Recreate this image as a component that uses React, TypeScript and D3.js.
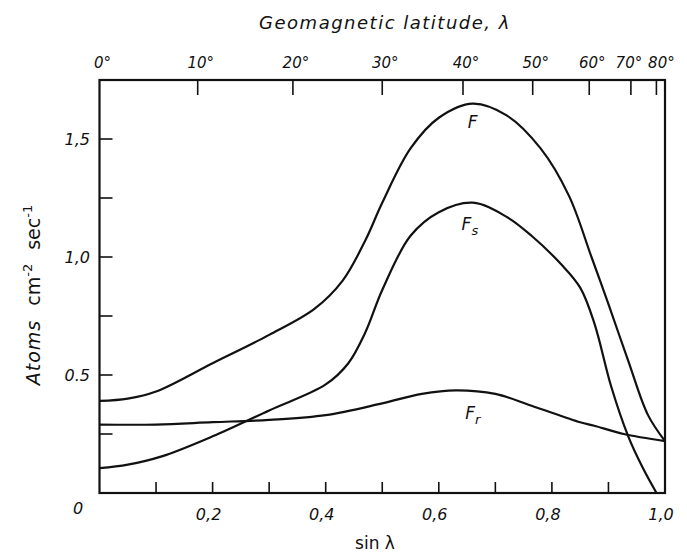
import React from "react";
import * as d3 from "d3";

// sin(lambda) positions and flux values (atoms cm^-2 sec^-1)
const fX = [0, 0.05, 0.1, 0.2, 0.3, 0.38, 0.43, 0.47, 0.5, 0.55, 0.6, 0.66, 0.72, 0.78, 0.83, 0.87, 0.9, 0.935, 0.97, 1.0];
const fY = [0.39, 0.4, 0.43, 0.55, 0.67, 0.78, 0.9, 1.07, 1.23, 1.46, 1.59, 1.65, 1.6, 1.46, 1.26, 1.0, 0.8, 0.56, 0.33, 0.22];

const fsX = [0, 0.05, 0.11, 0.2, 0.3, 0.4, 0.44, 0.47, 0.5, 0.55, 0.6, 0.66, 0.72, 0.764, 0.816, 0.85, 0.875, 0.905, 0.935, 0.96, 0.985];
const fsY = [0.105, 0.12, 0.155, 0.24, 0.35, 0.46, 0.55, 0.68, 0.86, 1.09, 1.19, 1.23, 1.17, 1.09, 0.97, 0.87, 0.72, 0.45, 0.24, 0.11, 0];

const frX = [0, 0.1, 0.2, 0.3, 0.4, 0.5, 0.57, 0.63, 0.7, 0.764, 0.85, 0.875, 0.927, 1.0];
const frY = [0.29, 0.29, 0.3, 0.31, 0.33, 0.38, 0.42, 0.435, 0.42, 0.37, 0.3, 0.285, 0.25, 0.22];

const latitudes = [0, 10, 20, 30, 40, 50, 60, 70, 80];
const latLabels = ["0°", "10°", "20°", "30°", "40°", "50°", "60°", "70°", "80°"];

const xTickVals = [0.1, 0.2, 0.3, 0.4, 0.5, 0.6, 0.7, 0.8, 0.9];
const xLabelVals = [0.2, 0.4, 0.6, 0.8, 1.0];
const xLabels = ["0,2", "0,4", "0,6", "0,8", "1,0"];

const yTickVals = [0.25, 0.5, 0.75, 1.0, 1.25, 1.5];
const yLabelVals = [0.5, 1.0, 1.5];
const yLabels = ["0.5", "1,0", "1,5"];

const W = 687;
const H = 556;
const M = { left: 99.5, right: 665, top: 80, bottom: 493 };

const FONT = "'DejaVu Sans', 'Liberation Sans', sans-serif";

export default function App() {
  const x = d3.scaleLinear().domain([0, 1]).range([M.left, M.right]);
  const y = d3.scaleLinear().domain([0, 1.75]).range([M.bottom, M.top]);

  const line = d3
    .line<[number, number]>()
    .x((d) => x(d[0]))
    .y((d) => y(d[1]))
    .curve(d3.curveCatmullRom.alpha(0.5));

  const series = [
    { xs: fX, ys: fY },
    { xs: fsX, ys: fsY },
    { xs: frX, ys: frY },
  ];

  const latShift = (lat: number) => (lat === 70 ? -2 : lat === 80 ? 5 : 3);

  return (
    <svg
      width={W}
      height={H}
      style={{ position: "absolute", left: 0, top: 0, background: "#fff" }}
    >
      <rect x={0} y={0} width={W} height={H} fill="#fff" />
      {/* title */}
      <text
        x={385}
        y={29}
        textAnchor="middle"
        fontFamily={FONT}
        fontStyle="italic"
        fontSize={18}
        letterSpacing={1.5}
        fill="#111"
      >
        Geomagnetic latitude, λ
      </text>

      {/* frame */}
      <rect
        x={M.left}
        y={M.top}
        width={M.right - M.left}
        height={M.bottom - M.top}
        fill="none"
        stroke="#111"
        strokeWidth={2.2}
      />

      {/* top ticks (latitude) */}
      {latitudes.map((lat, i) => {
        const px = x(Math.sin((lat * Math.PI) / 180));
        return (
          <g key={"lat" + lat}>
            {i > 0 && (
              <line x1={px} x2={px} y1={M.top} y2={M.top + 15} stroke="#111" strokeWidth={1.6} />
            )}
            <text
              x={px + latShift(lat)}
              y={68}
              textAnchor="middle"
              fontFamily={FONT}
              fontStyle="italic"
              fontSize={15}
              fill="#111"
            >
              {latLabels[i]}
            </text>
          </g>
        );
      })}

      {/* bottom ticks */}
      {xTickVals.map((v) => (
        <line key={"xt" + v} x1={x(v)} x2={x(v)} y1={M.bottom} y2={M.bottom - 11} stroke="#111" strokeWidth={1.6} />
      ))}
      {xLabelVals.map((v, i) => (
        <text
          key={"xl" + v}
          x={x(v) - 4}
          y={520}
          textAnchor="middle"
          fontFamily={FONT}
          fontStyle="italic"
          fontSize={16}
          fill="#111"
        >
          {xLabels[i]}
        </text>
      ))}
      <text x={78} y={514} textAnchor="middle" fontFamily={FONT} fontStyle="italic" fontSize={16} fill="#111">
        0
      </text>
      <text x={375} y={549} textAnchor="middle" fontFamily={FONT} fontSize={17} fill="#111">
        sin  λ
      </text>

      {/* left ticks */}
      {yTickVals.map((v) => (
        <line key={"yt" + v} x1={M.left} x2={M.left + 13} y1={y(v)} y2={y(v)} stroke="#111" strokeWidth={1.6} />
      ))}
      {yLabelVals.map((v, i) => (
        <text
          key={"yl" + v}
          x={90}
          y={y(v) + 6}
          textAnchor="end"
          fontFamily={FONT}
          fontStyle="italic"
          fontSize={16}
          fill="#111"
        >
          {yLabels[i]}
        </text>
      ))}

      {/* y axis title */}
      <text
        transform="translate(40,295) rotate(-90)"
        textAnchor="middle"
        fontFamily={FONT}
        fontSize={19}
        fill="#111"
      >
        <tspan fontStyle="italic" letterSpacing={1}>Atoms</tspan>
        <tspan dx={14}>cm</tspan>
        <tspan dy={-8} fontSize={13}>-2</tspan>
        <tspan dy={8} dx={14}>sec</tspan>
        <tspan dy={-8} fontSize={13}>-1</tspan>
      </text>

      {/* curves */}
      {series.map((s, i) => (
        <path
          key={"s" + i}
          d={line(s.xs.map((v, j) => [v, s.ys[j]] as [number, number])) || ""}
          fill="none"
          stroke="#111"
          strokeWidth={2.2}
        />
      ))}

      {/* curve labels */}
      <text x={x(0.66)} y={y(1.57) + 6} textAnchor="middle" fontFamily={FONT} fontStyle="italic" fontSize={17} fill="#111">
        F
      </text>
      <text x={x(0.655)} y={y(1.14) + 6} textAnchor="middle" fontFamily={FONT} fontStyle="italic" fontSize={17} fill="#111">
        F<tspan dy={5} fontSize={13}>s</tspan>
      </text>
      <text x={x(0.66)} y={y(0.34) + 6} textAnchor="middle" fontFamily={FONT} fontStyle="italic" fontSize={17} fill="#111">
        F<tspan dy={5} fontSize={13}>r</tspan>
      </text>
    </svg>
  );
}
